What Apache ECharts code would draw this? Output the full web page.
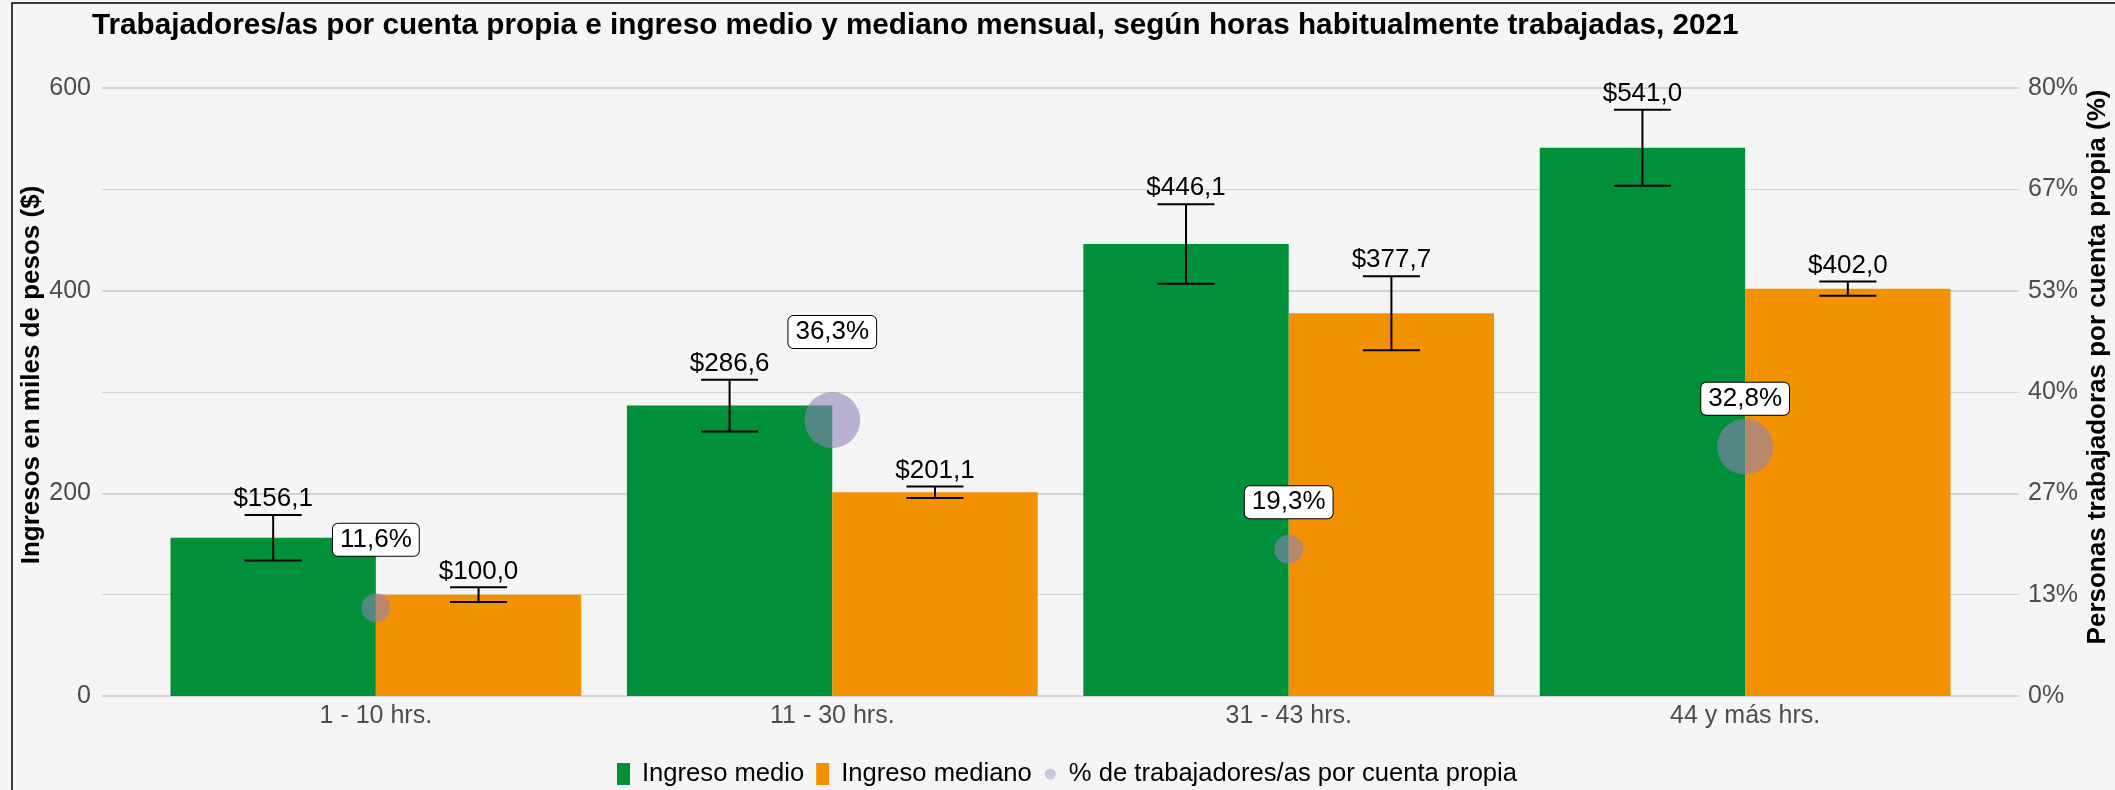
<!DOCTYPE html>
<html>
<head>
<meta charset="utf-8">
<script src="https://cdn.jsdelivr.net/npm/echarts@6/dist/echarts.min.js"></script>
<style>
  html, body { margin: 0; padding: 0; background: #f5f5f5; }
  #chart { width: 2115px; height: 790px; }
</style>
</head>
<body>
<div id="chart"></div>
<script>
  // categories and values
  const categories = ['1 - 10 hrs.', '11 - 30 hrs.', '31 - 43 hrs.', '44 y más hrs.']
  const ingresoMedio = [156.1, 286.6, 446.1, 541.0]
  const ingresoMediano = [100.0, 201.1, 377.7, 402.0]
  // confidence intervals (error bars)
  const medioLow = [133.6, 261.1, 406.8, 503.5]
  const medioHigh = [178.6, 312.1, 485.4, 578.5]
  const medianoLow = [92.8, 195.4, 341.1, 395.0]
  const medianoHigh = [107.2, 206.8, 414.3, 409.0]
  // share of own-account workers (%)
  const pctCuentaPropia = [11.6, 36.3, 19.3, 32.8]

  const FONT = '"Liberation Sans", Arial, sans-serif'
  const GREEN = '#00903a'
  const ORANGE = '#f39200'
  const fmt = v => v.toFixed(1).replace('.', ',')

  // vertical nudges of the % labels (px)
  const labelNudge = [-68, -88, -47, -48]

  const xs = categories.map((c, i) => i + 1)

  function errorBars(offset) {
    return function(params, api) {
      const x = api.value(0) + offset
      const hi = api.coord([x, api.value(3)])
      const lo = api.coord([x, api.value(2)])
      const half = api.size([0.0625, 0])[0]
      const line = { stroke: '#000', lineWidth: 2 }
      return {
        type: 'group',
        children: [
          { type: 'line', shape: { x1: hi[0], y1: hi[1], x2: lo[0], y2: lo[1] }, style: line },
          { type: 'line', shape: { x1: hi[0] - half, y1: hi[1], x2: hi[0] + half, y2: hi[1] }, style: line },
          { type: 'line', shape: { x1: lo[0] - half, y1: lo[1], x2: lo[0] + half, y2: lo[1] }, style: line },
          {
            type: 'text',
            style: {
              x: hi[0], y: hi[1] - 3,
              text: '$' + fmt(api.value(1)),
              align: 'center', verticalAlign: 'bottom',
              fontSize: 26, fontFamily: FONT, fill: '#000'
            }
          }
        ]
      }
    }
  }

  function pctLabel(params, api) {
    const p = api.coord([api.value(0), api.value(1)])
    return {
      type: 'text',
      style: {
        x: p[0], y: p[1] + labelNudge[params.dataIndex],
        text: fmt(api.value(1)) + '%',
        align: 'center', verticalAlign: 'middle',
        fontSize: 26, fontFamily: FONT, fill: '#000',
        backgroundColor: '#ffffff',
        borderColor: '#000', borderWidth: 1, borderRadius: 5,
        padding: [3, 7, 3, 7]
      }
    }
  }

  const chart = echarts.init(document.getElementById('chart'))

  chart.setOption({
    backgroundColor: '#f5f5f5',
    animation: false,
    title: {
      text: 'Trabajadores/as por cuenta propia e ingreso medio y mediano mensual, según horas habitualmente trabajadas, 2021',
      left: 92,
      top: 11,
      padding: 0,
      textStyle: { fontFamily: FONT, fontSize: 29.7, fontWeight: 'bold', color: '#000' }
    },
    legend: {
      left: 617,
      top: 761,
      padding: 0,
      itemWidth: 13,
      itemHeight: 22,
      itemGap: 12,
      selectedMode: false,
      textStyle: { fontFamily: FONT, fontSize: 25.6, color: '#000', padding: [0, 0, 0, 7] },
      data: [
        { name: 'Ingreso medio', icon: 'rect' },
        { name: 'Ingreso mediano', icon: 'rect' },
        {
          name: '% de trabajadores/as por cuenta propia',
          icon: 'path://M0,0 M13,22 M1,11 A5.5,5.5 0 1 0 12,11 A5.5,5.5 0 1 0 1,11 Z',
          itemStyle: { color: 'rgba(140,130,184,0.5)' }
        }
      ]
    },
    grid: { left: 102, right: 96, top: 88, bottom: 94 },
    xAxis: {
      type: 'value',
      min: 0.4,
      max: 4.6,
      axisLine: { show: false },
      axisTick: { show: false },
      splitLine: { show: false },
      axisLabel: {
        customValues: xs,
        formatter: v => categories[Math.round(v) - 1] || '',
        fontFamily: FONT,
        fontSize: 25,
        color: '#4d4d4d',
        margin: 8
      }
    },
    yAxis: [
      {
        type: 'value',
        min: 0,
        max: 600,
        interval: 200,
        axisLine: { show: false },
        axisTick: { show: false },
        axisLabel: { fontFamily: FONT, fontSize: 25, color: '#4d4d4d', margin: 11 },
        splitLine: { lineStyle: { color: '#c9c9c9', width: 1.6 } },
        minorTick: { show: false, splitNumber: 2 },
        minorSplitLine: { show: true, lineStyle: { color: '#d4d4d4', width: 1 } }
      },
      {
        type: 'value',
        min: 0,
        max: 80,
        interval: 80 / 6,
        position: 'right',
        axisLine: { show: false },
        axisTick: { show: false },
        splitLine: { show: false },
        axisLabel: {
          fontFamily: FONT, fontSize: 25, color: '#4d4d4d', margin: 9,
          formatter: v => Math.round(v) + '%'
        }
      }
    ],
    graphic: [
      {
        type: 'polyline',
        shape: { points: [[12, 790], [12, 3], [2115, 3]] },
        style: { stroke: '#000', lineWidth: 1.5, fill: null },
        silent: true
      },
      {
        type: 'text',
        x: 32, y: 375,
        rotation: Math.PI / 2,
        style: {
          text: 'Ingresos en miles de pesos ($)',
          align: 'center', verticalAlign: 'middle',
          fontFamily: FONT, fontSize: 26, fontWeight: 'bold', fill: '#000'
        }
      },
      {
        type: 'text',
        x: 2098, y: 367,
        rotation: Math.PI / 2,
        style: {
          text: 'Personas trabajadoras por cuenta propia (%)',
          align: 'center', verticalAlign: 'middle',
          fontFamily: FONT, fontSize: 26, fontWeight: 'bold', fill: '#000'
        }
      }
    ],
    series: [
      {
        name: 'Ingreso medio',
        type: 'bar',
        barGap: 0,
        barCategoryGap: '10%',
        itemStyle: { color: GREEN },
        data: xs.map((x, i) => [x, ingresoMedio[i]])
      },
      {
        name: 'Ingreso mediano',
        type: 'bar',
        barGap: 0,
        barCategoryGap: '10%',
        itemStyle: { color: ORANGE },
        data: xs.map((x, i) => [x, ingresoMediano[i]])
      },
      {
        name: 'ic_medio',
        type: 'custom',
        z: 5,
        renderItem: errorBars(-0.225),
        encode: { x: 0, y: [1, 2, 3] },
        data: xs.map((x, i) => [x, ingresoMedio[i], medioLow[i], medioHigh[i]])
      },
      {
        name: 'ic_mediano',
        type: 'custom',
        z: 5,
        renderItem: errorBars(0.225),
        encode: { x: 0, y: [1, 2, 3] },
        data: xs.map((x, i) => [x, ingresoMediano[i], medianoLow[i], medianoHigh[i]])
      },
      {
        name: '% de trabajadores/as por cuenta propia',
        type: 'scatter',
        yAxisIndex: 1,
        z: 6,
        symbolSize: v => (v[1] >= 30 ? 56 : 29),
        itemStyle: { color: 'rgba(140,129,183,0.73)' },
        data: xs.map((x, i) => [x, pctCuentaPropia[i]])
      },
      {
        name: 'pct_labels',
        type: 'custom',
        yAxisIndex: 1,
        z: 7,
        renderItem: pctLabel,
        encode: { x: 0, y: 1 },
        data: xs.map((x, i) => [x, pctCuentaPropia[i]])
      }
    ]
  })
</script>
</body>
</html>
